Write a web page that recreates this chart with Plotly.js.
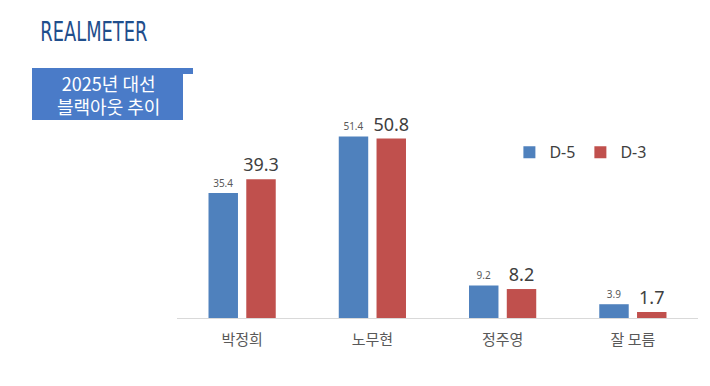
<!DOCTYPE html>
<html>
<head>
<meta charset="utf-8">
<script src="https://cdn.plot.ly/plotly-3.0.1.min.js"></script>
<style>
html,body{margin:0;padding:0;background:#fff;}
#chart{width:710px;height:386px;}
</style>
</head>
<body>
<div id="chart"></div>
<script>
const categories = ['박정희', '노무현', '정주영', '잘 모름'];
const seriesNames = ['D-5', 'D-3'];
const d5 = [35.4, 51.4, 9.2, 3.9];
const d3 = [39.3, 50.8, 8.2, 1.7];
const titleLines = ['2025년 대선', '블랙아웃 추이'];
const logoText = 'REALMETER';

const traces = [
  {
    type: 'bar', name: seriesNames[0], x: categories, y: d5,
    marker: {color: '#4f81bd'},
    text: d5.map(v => v.toFixed(1)), textposition: 'outside',
    textfont: {family: 'Noto Sans, sans-serif', size: 10, color: '#595959'},
    cliponaxis: false, constraintext: 'none', hoverinfo: 'none'
  },
  {
    type: 'bar', name: seriesNames[1], x: categories, y: d3,
    marker: {color: '#c0504d'},
    text: d3.map(v => v.toFixed(1)), textposition: 'outside',
    textfont: {family: 'Noto Sans, sans-serif', size: 18, color: '#404040'},
    cliponaxis: false, constraintext: 'none', hoverinfo: 'none'
  }
];

const layout = {
  width: 710, height: 386,
  paper_bgcolor: '#ffffff', plot_bgcolor: '#ffffff',
  margin: {l: 177, r: 12, t: 100, b: 68},
  barmode: 'group', bargap: 0.42, bargroupgap: 0.22,
  showlegend: true,
  legend: {
    orientation: 'h', x: 0.638, y: 0.76, xanchor: 'left', yanchor: 'middle',
    font: {family: 'Noto Sans, sans-serif', size: 16, color: '#404040'},
    itemwidth: 30, traceorder: 'normal', bgcolor: 'rgba(0,0,0,0)'
  },
  xaxis: {
    type: 'category', showline: true, linecolor: '#d9d9d9', linewidth: 1,
    ticks: '', showgrid: false, zeroline: false, ticklabelstandoff: 8,
    tickfont: {family: 'Noto Sans CJK KR, sans-serif', size: 15, color: '#595959'},
    fixedrange: true
  },
  yaxis: {
    range: [0, 61.7], visible: false, showgrid: false, zeroline: false, fixedrange: true
  },
  shapes: [
    {type: 'rect', xref: 'paper', yref: 'paper', xsizemode: 'pixel', ysizemode: 'pixel',
     xanchor: 0, yanchor: 1, x0: -145, x1: 6, y0: 32, y1: -20,
     fillcolor: '#4a7bc8', line: {width: 0}, layer: 'above'},
    {type: 'rect', xref: 'paper', yref: 'paper', xsizemode: 'pixel', ysizemode: 'pixel',
     xanchor: 0, yanchor: 1, x0: 6, x1: 16, y0: 32, y1: 26,
     fillcolor: '#4a7bc8', line: {width: 0}, layer: 'above'}
  ],
  annotations: [
    {xref: 'paper', yref: 'paper', x: -0.132, y: 1, yshift: 6,
     xanchor: 'center', yanchor: 'middle', showarrow: false,
     text: titleLines.join('<br>'),
     font: {family: 'Noto Sans CJK KR, sans-serif', size: 18, color: '#ffffff'}},
    {xref: 'paper', yref: 'paper', x: -0.160, y: 1, yshift: 69,
     xanchor: 'center', yanchor: 'middle', showarrow: false,
     text: logoText,
     font: {family: 'DejaVu Sans Condensed, Noto Sans, sans-serif', size: 27, color: '#1f4e8c'}}
  ]
};

Plotly.newPlot('chart', traces, layout, {displayModeBar: false, staticPlot: true}).then(gd => {
  gd.querySelectorAll('.annotation-text').forEach(t => {
    if (t.textContent === logoText) {
      t.setAttribute('textLength', '107');
      t.setAttribute('lengthAdjust', 'spacingAndGlyphs');
    }
  });
});
</script>
</body>
</html>
